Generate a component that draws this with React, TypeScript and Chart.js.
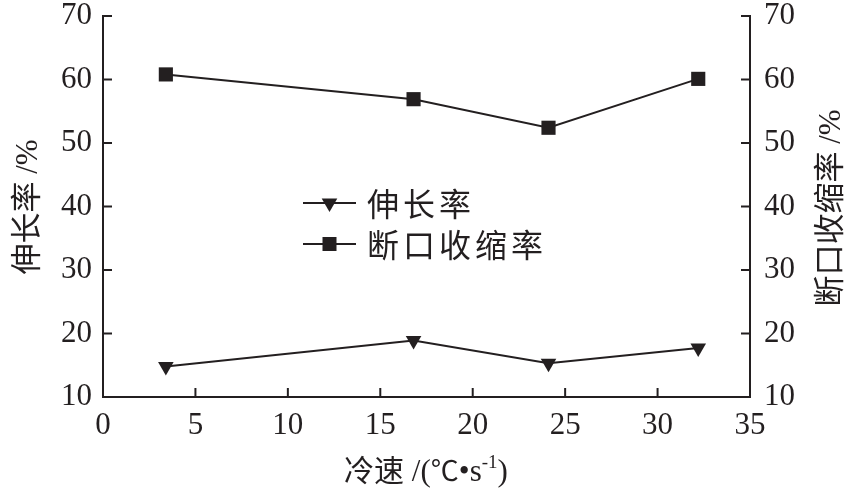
import React, { useEffect, useRef } from 'react';
import { Chart, registerables } from 'chart.js';

Chart.register(...registerables);

const coolingRates = [3.4, 16.8, 24.1, 32.2];
const elongation = [14.8, 18.9, 15.3, 17.7];
const reduction = [60.8, 56.9, 52.4, 60.1];
const seriesNames = ['伸长率', '断口收缩率'];
const leftTitle = ['伸长率', ' /%'];
const rightTitle = ['断口收缩率', ' /%'];

const INK = '#231f20';
const CJK = '"Noto Sans CJK SC", "Noto Sans", sans-serif';
const SERIF = '"Liberation Serif", "DejaVu Serif", serif';

type Seg = { t: string; font: string; dy?: number };

function drawSegs(ctx: CanvasRenderingContext2D, segs: Seg[], cx: number, cy: number, rot: number) {
  ctx.save();
  ctx.translate(cx, cy);
  ctx.rotate(rot);
  ctx.fillStyle = INK;
  ctx.textBaseline = 'alphabetic';
  ctx.textAlign = 'left';
  let total = 0;
  const widths = segs.map((s) => {
    ctx.font = s.font;
    const w = ctx.measureText(s.t).width;
    total += w;
    return w;
  });
  let x = -total / 2;
  segs.forEach((s, i) => {
    ctx.font = s.font;
    ctx.fillText(s.t, x, 11 + (s.dy || 0));
    x += widths[i];
  });
  ctx.restore();
}

function drawTriDown(ctx: CanvasRenderingContext2D, x: number, y: number, r: number) {
  ctx.beginPath();
  ctx.moveTo(x, y + r);
  ctx.lineTo(x - r * 0.866, y - r * 0.5);
  ctx.lineTo(x + r * 0.866, y - r * 0.5);
  ctx.closePath();
  ctx.fill();
}

const decorPlugin = {
  id: 'decor',
  afterDraw(chart: any) {
    const ctx: CanvasRenderingContext2D = chart.ctx;
    const { left, right, bottom } = chart.chartArea;
    const xs = chart.scales.x;
    const ys = chart.scales.y;
    const y2 = chart.scales.y2;
    ctx.save();
    ctx.strokeStyle = INK;
    ctx.lineWidth = 2;
    const tl = 9;
    xs.ticks.forEach((t: any) => {
      const px = xs.getPixelForValue(t.value);
      ctx.beginPath();
      ctx.moveTo(px, bottom);
      ctx.lineTo(px, bottom - tl);
      ctx.stroke();
    });
    ys.ticks.forEach((t: any) => {
      const py = ys.getPixelForValue(t.value);
      ctx.beginPath();
      ctx.moveTo(left, py);
      ctx.lineTo(left + tl, py);
      ctx.stroke();
    });
    y2.ticks.forEach((t: any) => {
      const py = y2.getPixelForValue(t.value);
      ctx.beginPath();
      ctx.moveTo(right, py);
      ctx.lineTo(right - tl, py);
      ctx.stroke();
    });

    // legend
    const lx0 = 303;
    const lx1 = 356;
    const rows = [203, 244];
    ctx.fillStyle = INK;
    rows.forEach((ry, i) => {
      ctx.beginPath();
      ctx.moveTo(lx0, ry);
      ctx.lineTo(lx1, ry);
      ctx.stroke();
      const mx = (lx0 + lx1) / 2;
      if (i === 0) drawTriDown(ctx, mx, ry, 9);
      else ctx.fillRect(mx - 7, ry - 7, 14, 14);
      ctx.font = `32px ${CJK}`;
      ctx.textBaseline = 'middle';
      ctx.textAlign = 'left';
      const chars = Array.from(seriesNames[i]);
      chars.forEach((c, k) => {
        ctx.fillText(c, 367 + k * 36, ry + 1);
      });
    });
    ctx.restore();

    drawSegs(ctx, [
      { t: leftTitle[0], font: `31px ${CJK}` },
      { t: leftTitle[1], font: `31px ${SERIF}` },
    ], 26, 207, -Math.PI / 2);
    drawSegs(ctx, [
      { t: rightTitle[0], font: `31px ${CJK}` },
      { t: rightTitle[1], font: `31px ${SERIF}` },
    ], 829, 208, -Math.PI / 2);
    drawSegs(ctx, [
      { t: '冷速', font: `30px ${CJK}` },
      { t: ' /(', font: `31px ${SERIF}` },
      { t: '℃', font: `28px ${CJK}` },
      { t: '•s', font: `31px ${SERIF}` },
      { t: '-1', font: `19px ${SERIF}`, dy: -13 },
      { t: ')', font: `31px ${SERIF}` },
    ], 426, 470, 0);
  },
};

export default function App() {
  const ref = useRef<HTMLCanvasElement>(null);
  useEffect(() => {
    if (!ref.current) return;
    const tickFont = { family: SERIF, size: 31 };
    const chart = new Chart(ref.current, {
      type: 'line',
      data: {
        datasets: [
          {
            label: seriesNames[0],
            data: coolingRates.map((x, i) => ({ x, y: elongation[i] })),
            yAxisID: 'y',
            borderColor: INK,
            backgroundColor: INK,
            borderWidth: 2,
            pointStyle: 'triangle',
            rotation: 180,
            pointRadius: 9,
            pointBorderWidth: 0,
            tension: 0,
          },
          {
            label: seriesNames[1],
            data: coolingRates.map((x, i) => ({ x, y: reduction[i] })),
            yAxisID: 'y2',
            borderColor: INK,
            backgroundColor: INK,
            borderWidth: 2,
            pointStyle: 'rect',
            pointRadius: 10,
            pointBorderWidth: 0,
            tension: 0,
          },
        ],
      },
      options: {
        animation: false,
        responsive: false,
        devicePixelRatio: 1,
        layout: { padding: { top: 0, left: 0, right: 0, bottom: 0 } },
        plugins: { legend: { display: false }, tooltip: { enabled: false } },
        scales: {
          x: {
            type: 'linear',
            min: 0,
            max: 35,
            ticks: { stepSize: 5, color: INK, font: tickFont, padding: 10, maxRotation: 0 },
            grid: { display: false, drawTicks: false },
            border: { display: true, color: INK, width: 2 },
            afterFit: (s: any) => { s.height = 99; },
          },
          y: {
            position: 'left',
            min: 10,
            max: 70,
            ticks: { stepSize: 10, color: INK, font: tickFont, padding: 11 },
            grid: { display: false, drawTicks: false },
            border: { display: true, color: INK, width: 2 },
            afterFit: (s: any) => { s.width = 103; s.paddingTop = 16; },
          },
          y2: {
            position: 'right',
            min: 10,
            max: 70,
            ticks: { stepSize: 10, color: INK, font: tickFont, padding: 14 },
            grid: { display: false, drawTicks: false },
            border: { display: true, color: INK, width: 2 },
            afterFit: (s: any) => { s.width = 100; s.paddingTop = 16; },
          },
        },
      },
      plugins: [decorPlugin],
    } as any);
    return () => chart.destroy();
  }, []);
  return (
    <div style={{ position: 'fixed', left: 0, top: 0, width: 850, height: 496, background: '#fff' }}>
      <canvas ref={ref} width={850} height={496} style={{ width: 850, height: 496 }} />
    </div>
  );
}
